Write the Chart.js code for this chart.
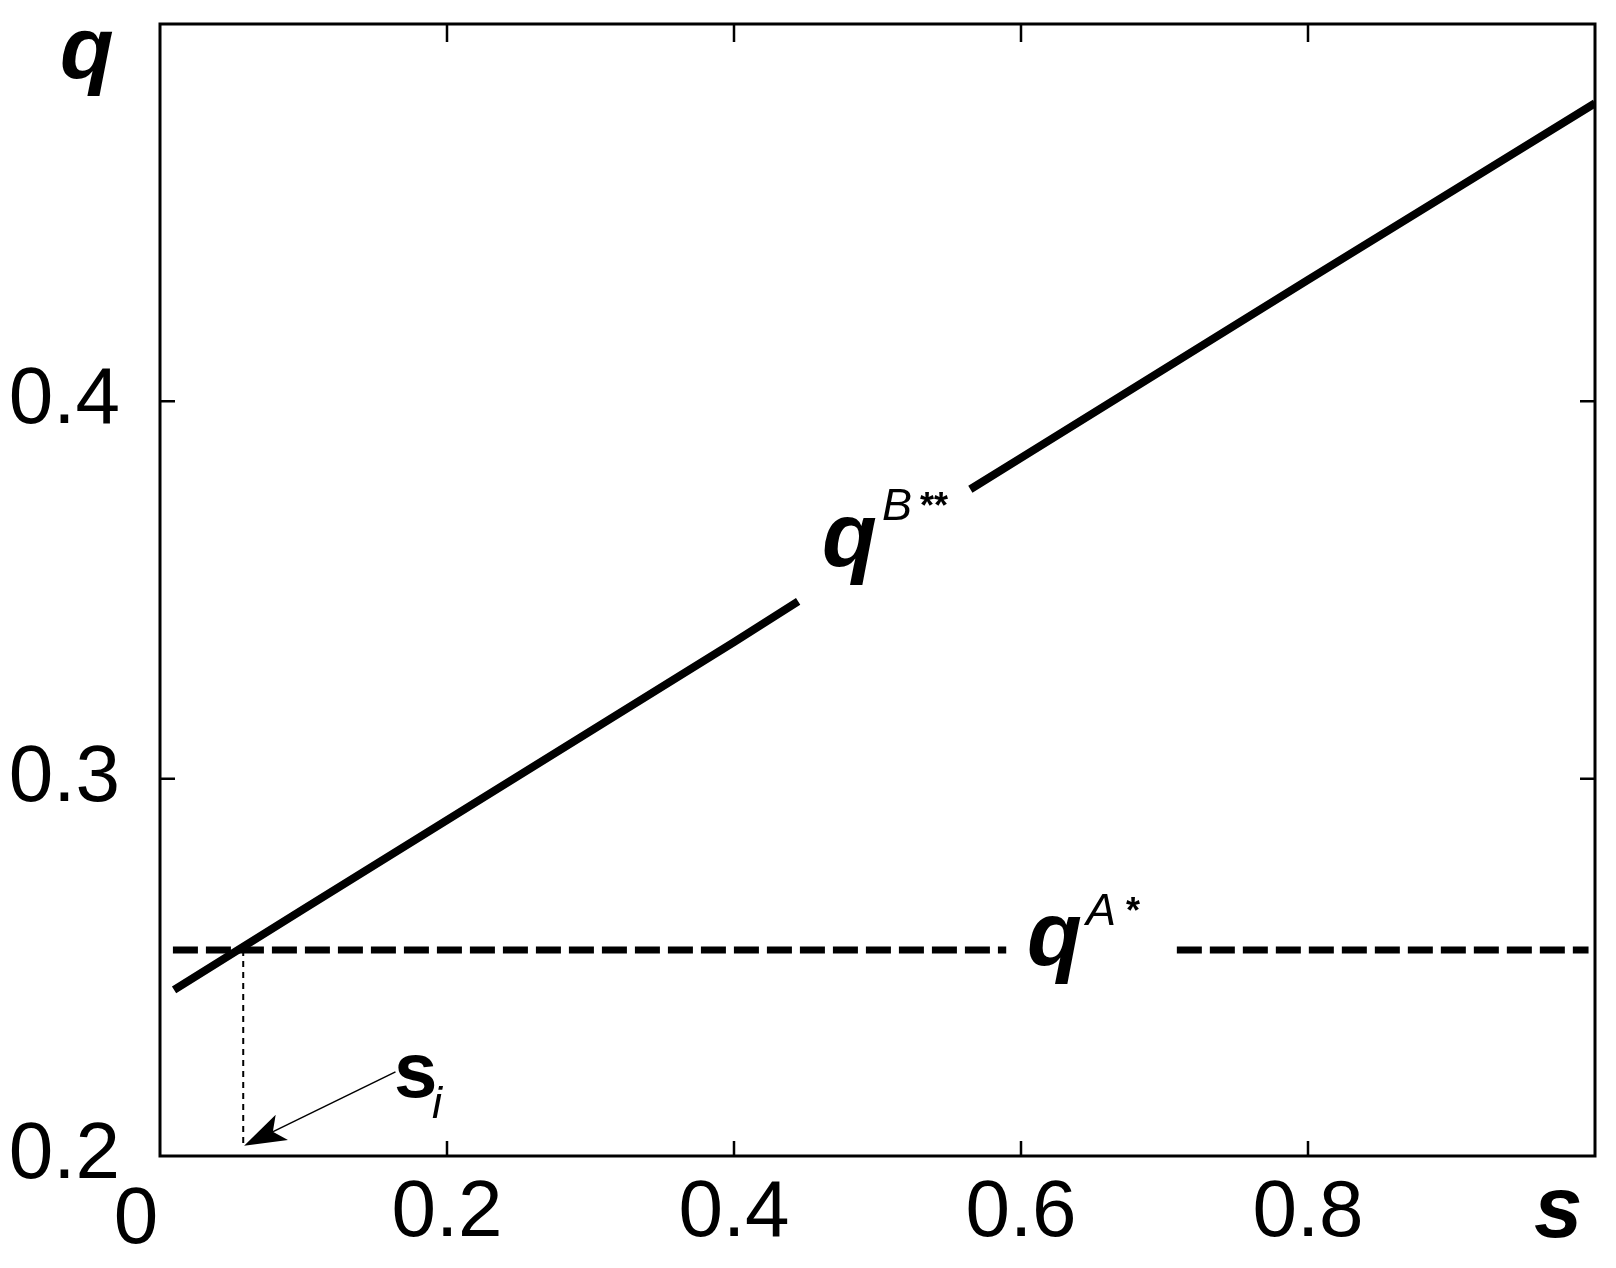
<!DOCTYPE html>
<html>
<head>
<meta charset="utf-8">
<script src="https://cdn.jsdelivr.net/npm/chart.js@4.4.1/dist/chart.umd.min.js"></script>
<style>
  html, body { margin: 0; padding: 0; background: #fff; }
  #wrap { width: 1616px; height: 1268px; position: relative; }
</style>
</head>
<body>
<div id="wrap"><canvas id="c" width="1616" height="1268"></canvas></div>
<script>
// ---- data ----
const qB1_s = [0.0098, 0.1, 0.2, 0.3, 0.4, 0.4447];
const qB1_q = [0.2440, 0.2654, 0.2890, 0.3126, 0.3362, 0.3470];
const qB2_s = [0.5647, 0.6, 0.7, 0.8, 0.9, 1.0];
const qB2_q = [0.3767, 0.3850, 0.4086, 0.4322, 0.4556, 0.4790];
const qA1_s = [0.009, 0.5897];
const qA2_s = [0.7086, 0.9955];
const qA_value = 0.2546;
const si_value = 0.058;
const si_bottom = 0.2027;
const arrow_start = [0.1641, 0.2223];
const arrow_tip = [0.0586, 0.2027];
const xTicks = [0, 0.2, 0.4, 0.6, 0.8, 1.0];
const xTickLabels = ['0', '0.2', '0.4', '0.6', '0.8', 's'];
const yTicks = [0.2, 0.3, 0.4, 0.5];
const yTickLabels = ['0.2', '0.3', '0.4', 'q'];

const FONT = '"Liberation Sans", Arial, sans-serif';
const pts = (xs, ys) => xs.map((x, i) => ({ x: x, y: ys[i] }));
const flat = (xs, v) => xs.map(x => ({ x: x, y: v }));

const overlay = {
  id: 'overlay',
  afterDraw(chart) {
    const ctx = chart.ctx;
    const xs = chart.scales.x, ys = chart.scales.y;
    const a = chart.chartArea;
    ctx.save();
    ctx.strokeStyle = '#000';
    ctx.fillStyle = '#000';
    // frame
    ctx.lineWidth = 3;
    ctx.strokeRect(a.left, a.top, a.right - a.left, a.bottom - a.top);
    // inward ticks
    ctx.lineWidth = 2.5;
    xTicks.forEach(v => {
      if (v <= 0 || v >= 1) return;
      const px = xs.getPixelForValue(v);
      ctx.beginPath();
      ctx.moveTo(px, a.bottom); ctx.lineTo(px, a.bottom - 15);
      ctx.moveTo(px, a.top); ctx.lineTo(px, a.top + 18);
      ctx.stroke();
    });
    yTicks.forEach(v => {
      if (v <= 0.2 || v >= 0.5) return;
      const py = ys.getPixelForValue(v);
      ctx.beginPath();
      ctx.moveTo(a.left, py); ctx.lineTo(a.left + 15, py);
      ctx.moveTo(a.right, py); ctx.lineTo(a.right - 15, py);
      ctx.stroke();
    });
    // vertical dotted line at s_i
    const sx = xs.getPixelForValue(si_value);
    ctx.lineWidth = 2;
    ctx.setLineDash([6, 5]);
    ctx.beginPath();
    ctx.moveTo(sx, ys.getPixelForValue(qA_value));
    ctx.lineTo(sx, ys.getPixelForValue(si_bottom));
    ctx.stroke();
    ctx.setLineDash([]);
    // arrow
    const x0 = xs.getPixelForValue(arrow_start[0]), y0 = ys.getPixelForValue(arrow_start[1]);
    const x1 = xs.getPixelForValue(arrow_tip[0]), y1 = ys.getPixelForValue(arrow_tip[1]);
    const dx = x0 - x1, dy = y0 - y1, L = Math.hypot(dx, dy);
    const ux = dx / L, uy = dy / L, px = -uy, py = ux;
    ctx.lineWidth = 1.5;
    ctx.beginPath();
    ctx.moveTo(x0, y0); ctx.lineTo(x1 + ux * 30, y1 + uy * 30);
    ctx.stroke();
    ctx.beginPath();
    ctx.moveTo(x1, y1);
    ctx.lineTo(x1 + ux * 42 + px * 14, y1 + uy * 42 + py * 14);
    ctx.lineTo(x1 + ux * 32, y1 + uy * 32);
    ctx.lineTo(x1 + ux * 42 - px * 14, y1 + uy * 42 - py * 14);
    ctx.closePath();
    ctx.fill();

    // texts
    ctx.textAlign = 'left';
    ctx.textBaseline = 'alphabetic';
    // axis q (top-left)
    ctx.font = 'italic bold 88px ' + FONT;
    ctx.fillText(yTickLabels[3], 60, 78);
    // axis s (bottom-right)
    ctx.font = 'italic bold 87px ' + FONT;
    ctx.fillText(xTickLabels[5], 1534, 1237);
    // "0" label of x axis
    ctx.font = '80px ' + FONT;
    ctx.textAlign = 'center';
    ctx.fillText(xTickLabels[0], 136, 1243);
    ctx.textAlign = 'left';
    // q^{B**}
    ctx.font = 'italic bold 90px ' + FONT;
    ctx.fillText('q', 822, 566);
    ctx.font = 'italic 45px ' + FONT;
    ctx.fillText('B', 882, 520);
    ctx.font = 'bold 36px ' + FONT;
    ctx.fillText('**', 920, 518);
    // q^{A*}
    ctx.font = 'italic bold 90px ' + FONT;
    ctx.fillText('q', 1027, 965);
    ctx.font = 'italic 45px ' + FONT;
    ctx.fillText('A', 1086, 925);
    ctx.font = 'bold 36px ' + FONT;
    ctx.fillText('*', 1126, 923);
    // s_i
    ctx.font = 'bold 78px ' + FONT;
    ctx.fillText('s', 394, 1097);
    ctx.font = 'italic 45px ' + FONT;
    ctx.fillText('i', 432, 1118);
    ctx.restore();
  }
};

new Chart(document.getElementById('c'), {
  type: 'line',
  data: {
    datasets: [
      { data: pts(qB1_s, qB1_q), borderColor: '#000', borderWidth: 8, pointRadius: 0, tension: 0, borderCapStyle: 'butt' },
      { data: pts(qB2_s, qB2_q), borderColor: '#000', borderWidth: 8, pointRadius: 0, tension: 0, borderCapStyle: 'butt' },
      { data: flat(qA1_s, qA_value), borderColor: '#000', borderWidth: 7, pointRadius: 0, borderDash: [25, 8], borderCapStyle: 'butt' },
      { data: flat(qA2_s, qA_value), borderColor: '#000', borderWidth: 7, pointRadius: 0, borderDash: [25, 8], borderCapStyle: 'butt' }
    ]
  },
  options: {
    responsive: false,
    animation: false,
    layout: { padding: { left: 0, right: 21, top: 24, bottom: 0 } },
    plugins: { legend: { display: false }, tooltip: { enabled: false } },
    scales: {
      x: {
        type: 'linear', min: 0, max: 1,
        afterBuildTicks: s => { s.ticks = xTicks.map(v => ({ value: v })); },
        afterFit: s => { s.height = 112; s.paddingLeft = 0; s.paddingRight = 0; },
        grid: { display: false, drawTicks: false },
        border: { display: false },
        ticks: {
          padding: 10,
          color: '#000',
          font: { family: FONT, size: 80 },
          maxRotation: 0, autoSkip: false,
          callback: (v) => {
            const i = xTicks.findIndex(t => Math.abs(t - v) < 1e-9);
            return (i <= 0 || i === xTicks.length - 1) ? '' : xTickLabels[i];
          }
        }
      },
      y: {
        type: 'linear', min: 0.2, max: 0.5,
        afterBuildTicks: s => { s.ticks = yTicks.map(v => ({ value: v })); },
        afterFit: s => { s.width = 160; s.paddingTop = 0; s.paddingBottom = 0; },
        grid: { display: false, drawTicks: false },
        border: { display: false },
        ticks: {
          padding: 40,
          color: '#000',
          font: { family: FONT, size: 80 },
          autoSkip: false,
          callback: (v) => {
            const i = yTicks.findIndex(t => Math.abs(t - v) < 1e-9);
            return (i < 0 || i === yTicks.length - 1) ? '' : yTickLabels[i];
          }
        }
      }
    }
  },
  plugins: [overlay]
});
</script>
</body>
</html>
